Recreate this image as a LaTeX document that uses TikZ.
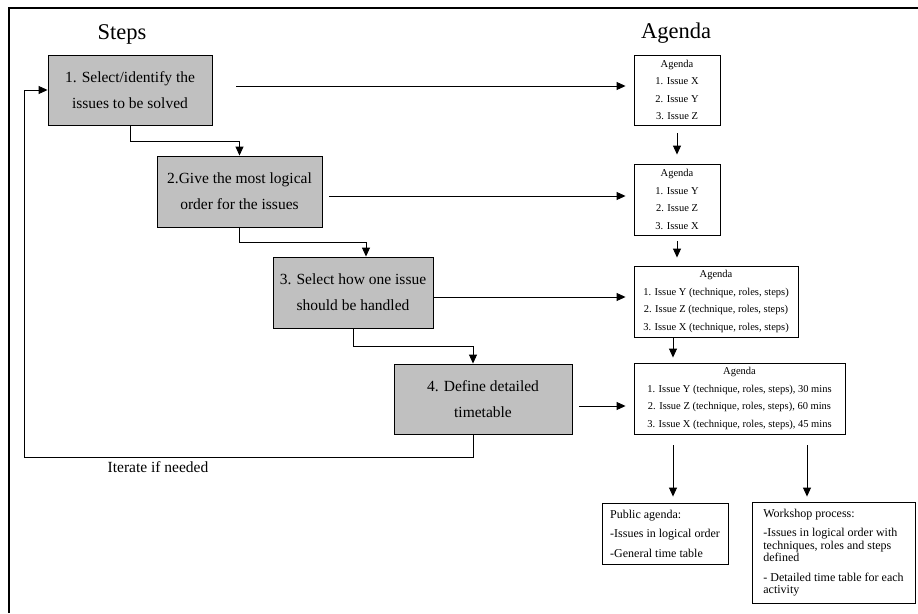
\documentclass[tikz,border=0pt]{standalone}
\usepackage{fontspec}
\setmainfont{Liberation Serif}
\usetikzlibrary{arrows.meta,calc}
\definecolor{stepfill}{RGB}{192,192,192}
\begin{document}
\begin{tikzpicture}[x=1pt,y=-1pt,
  stepbox/.style={draw=black, line width=0.9pt, fill=stepfill, inner sep=0pt, align=center,
                  font=\fontsize{15.5}{26}\selectfont},
  agbox/.style={draw=black, line width=0.9pt, fill=white, inner sep=0pt, align=center,
                font=\fontsize{10.5}{17.5}\selectfont},
  outbox/.style={draw=black, line width=0.9pt, inner sep=0pt, align=left,
                 font=\fontsize{12}{12.5}\selectfont},
  link/.style={line width=0.9pt, -{Triangle[length=9pt,width=8pt]}},
  title/.style={font=\fontsize{22.5}{27}\selectfont},
  note/.style={font=\fontsize{15.5}{18}\selectfont}
]
\useasboundingbox (0,0) rectangle (918,613);

% outer frame
\draw[line width=1.5pt] (918,8) -- (9,8) -- (9,613);

% column titles
\node[title] (stepsT) at (122,34) {Steps};
\node[title] (agT) at (676,33) {Agenda};

% steps
\node[stepbox, minimum width=164pt, minimum height=70pt] (s1) at (130,90)
  {1. Select/identify the\\issues to be solved};
\node[stepbox, minimum width=165pt, minimum height=71pt] (s2) at (239.5,191.5)
  {2.Give the most logical\\order for the issues};
\node[stepbox, minimum width=160pt, minimum height=71pt] (s3) at (353,292.5)
  {3. Select how one issue\\should be handled};
\node[stepbox, minimum width=178pt, minimum height=70pt] (s4) at (483,399)
  {4. Define detailed\\timetable};

% agenda versions
\node[agbox, minimum width=86pt, minimum height=70pt] (a1) at (677,90)
  {Agenda\\1. Issue X\\2. Issue Y\\3. Issue Z};
\node[agbox, minimum width=86pt, minimum height=71pt] (a2) at (677,199.5)
  {Agenda\\1. Issue Y\\2. Issue Z\\3. Issue X};
\node[agbox, minimum width=164pt, minimum height=71pt] (a3) at (716,301.5)
  {Agenda\\1. Issue Y (technique, roles, steps)\\2. Issue Z (technique, roles, steps)\\3. Issue X (technique, roles, steps)};
\node[agbox, minimum width=211pt, minimum height=71pt] (a4) at (739.5,398.5)
  {Agenda\\1. Issue Y (technique, roles, steps), 30 mins\\2. Issue Z (technique, roles, steps), 60 mins\\3. Issue X (technique, roles, steps), 45 mins};

% outputs
\node[outbox, minimum width=126pt, minimum height=61pt] (pub) at (665,533.5)
  {Public agenda:\\[7pt]-Issues in logical order\\[7pt]-General time table};
\node[outbox, minimum width=163pt, minimum height=101pt] (ws) at (833.5,552.5)
  {Workshop process:\\[7pt]-Issues in logical order with\\techniques, roles and steps\\defined\\[7pt]- Detailed time table for each\\activity};

% step to step connectors
\coordinate (s3in) at ($(s3.north)+(13,0)$);
\coordinate (s4in) at ($(s4.north)+(-10,0)$);
\coordinate (s4out) at ($(s4.south)+(-10,0)$);
\coordinate (loopbl) at (24,457);
\draw[link] (s1.south) -- ++(0,16) -| (s2.north);
\draw[link] (s2.south) -- ++(0,15) -| (s3in);
\draw[link] (s3.south) -- ++(0,18) -| (s4in);
\draw[link] (s4out) |- (loopbl) |- (s1.west);
\node[note] (iter) at (158,467) {Iterate if needed};

% step to agenda connectors
\draw[link, shorten >=8pt] ($(s1.east |- 0,86)+(24,0)$) -- (a1.west |- 0,86);
\draw[link, shorten >=8pt] ($(s2.east |- 0,196)+(7,0)$) -- (a2.west |- 0,196);
\draw[link, shorten >=8pt] (s3.east |- 0,297) -- (a3.west |- 0,297);
\draw[link, shorten >=8pt] ($(s4.east |- 0,406)+(7,0)$) -- (a4.west |- 0,406);

% agenda to agenda connectors
\coordinate (a3out) at ($(a3.south)+(-43,0)$);
\coordinate (pubin) at ($(pub.north)+(8,0)$);
\coordinate (wsin) at ($(ws.north)+(-26.5,0)$);
\draw[link, shorten <=8pt, shorten >=9pt] (a1.south) -- (a2.north);
\draw[link, shorten <=6pt, shorten >=8pt] (a2.south) -- (a2.south |- a3.north);
\draw[link, shorten >=5pt] (a3out) -- (a3out |- a4.north);
\draw[link, shorten <=11pt, shorten >=6pt] (a4.south -| pubin) -- (pubin);
\draw[link, shorten <=11pt, shorten >=5pt] (a4.south -| wsin) -- (wsin);
\end{tikzpicture}
\end{document}
